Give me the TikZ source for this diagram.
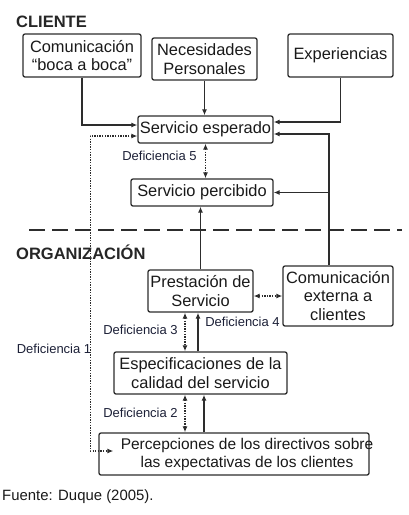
\documentclass[tikz,border=0pt]{standalone}
\usepackage{fontspec}
\setmainfont{Liberation Sans}
\usetikzlibrary{arrows.meta}
\definecolor{linegray}{RGB}{45,45,45}
\definecolor{defblue}{RGB}{28,32,55}
\begin{document}
\begin{tikzpicture}[
  x=1pt, y=-1pt,
  every node/.style={font=\fontsize{16.4}{18.5}\selectfont, text=black!90, align=center},
  box/.style={draw=linegray, line width=1.3pt, rounded corners=2pt, inner sep=0pt},
  gap/.style={font=\fontsize{13}{15}\selectfont, text=defblue, inner sep=0pt},
  side/.style={font=\fontsize{16.5}{19}\selectfont\bfseries, text=black!85, inner sep=0pt, anchor=west},
  flow/.style={draw=linegray, line width=1.4pt, -{Latex[length=6pt,width=5pt]}},
  dots/.style={draw=linegray, line width=1.5pt, dash pattern=on 1.3pt off 1.3pt,
    {Latex[length=6pt,width=5pt]}-{Latex[length=6pt,width=5pt]}}
]
  \useasboundingbox (0,0) rectangle (408,515);
  \node[side] (cliente) at (16,21.5) {CLIENTE};
  \node[side] (organizacion) at (16,252) {ORGANIZACIÓN};
  \node[anchor=west, inner sep=0pt, font=\fontsize{14.9}{17}\selectfont] (fuente) at (2,497) {Fuente: Duque (2005).};
  \draw[linegray, line width=2.5pt, dash pattern=on 16pt off 7pt] (29,230) -- (402,230);

  \node[box, minimum width=118, minimum height=43] (boca) at (82,55.5) {Comunicación\\“boca a boca”};
  \node[box, minimum width=105, minimum height=42] (necesidades) at (204.5,59) {Necesidades\\Personales};
  \node[box, minimum width=105, minimum height=43] (experiencias) at (340.5,55.5) {Experiencias};
  \node[box, minimum width=135, minimum height=27] (esperado) at (205.5,129.5) {Servicio esperado};
  \node[box, minimum width=142, minimum height=27] (percibido) at (202,192.5) {Servicio percibido};
  \node[box, minimum width=105, minimum height=42] (prestacion) at (200.5,291) {Prestación de\\Servicio};
  \node[box, minimum width=110, minimum height=60] (externa) at (338,296) {Comunicación\\externa a\\clientes};
  \node[box, minimum width=173, minimum height=42] (especif) at (200.5,373) {Especificaciones de la\\calidad del servicio};
  \node[box, minimum width=270, minimum height=42] (directivos) at (234,454) {};
  \node[font=\fontsize{15.5}{18}\selectfont, inner sep=0pt] (dirtext) at (247,454)
    {Percepciones de los directivos sobre\\las expectativas de los clientes};

  \node[gap] (def5) at (159.5,156) {Deficiencia 5};
  \node[gap] (def4) at (242.5,322) {Deficiencia 4};
  \node[gap] (def3) at (140.5,330) {Deficiencia 3};
  \node[gap] (def1) at (54,349) {Deficiencia 1};
  \node[gap] (def2) at (140.5,413) {Deficiencia 2};

  % cliente
  \draw[flow] (boca.south) |- ([yshift=4.5pt]esperado.west);
  \draw[flow] (necesidades.south) -- (necesidades.south |- esperado.north);
  \draw[flow] (experiencias.south) |- ([yshift=7.5pt]esperado.east);
  \draw[flow] ([xshift=-9pt]externa.north) |- ([yshift=-4.5pt]esperado.east);
  \draw[flow] ([xshift=-9pt]externa.north |- percibido.east) -- (percibido.east);
  \draw[flow] (prestacion.north) -- (prestacion.north |- percibido.south);
  \draw[dots] (esperado.south) -- (esperado.south |- percibido.north);

  % organizacion
  \draw[flow] ([xshift=-2.5pt]especif.north) -- ([xshift=-2.5pt]especif.north |- prestacion.south);
  \draw[flow] ([xshift=3.5pt]especif.south |- directivos.north) -- ([xshift=3.5pt]especif.south);
  \draw[dots] ([xshift=-15.5pt]prestacion.south) -- ([xshift=-15.5pt]prestacion.south |- especif.north);
  \draw[dots] ([xshift=-15.5pt]especif.south) -- ([xshift=-15.5pt]especif.south |- directivos.north);
  \draw[dots] ([yshift=-5pt]prestacion.east) -- ([yshift=-5pt]externa.west |- prestacion.east);
  \draw[dots] ([yshift=-6.5pt]esperado.west) -- ++(-47,0) |- ([xshift=15pt,yshift=3pt]directivos.west);
\end{tikzpicture}
\end{document}
